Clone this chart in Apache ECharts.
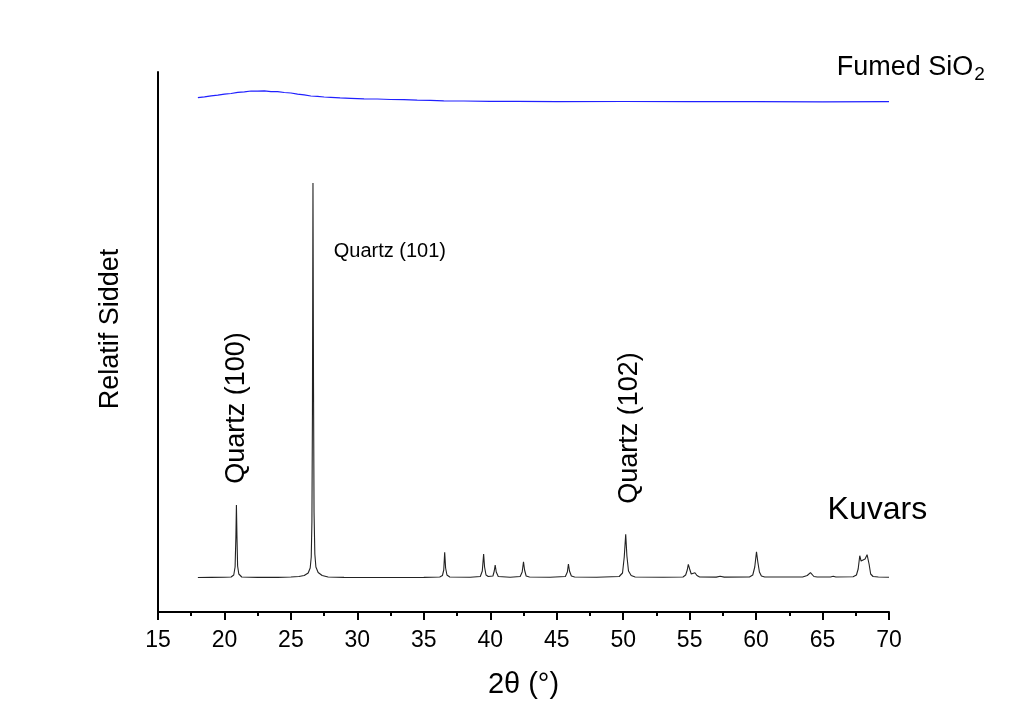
<!DOCTYPE html>
<html>
<head>
<meta charset="utf-8">
<title>XRD</title>
<script src="https://cdn.jsdelivr.net/npm/echarts@6/dist/echarts.min.js"></script>
<style>
  html, body { margin: 0; padding: 0; background: #ffffff; }
  #chart { width: 1019px; height: 711px; }
</style>
</head>
<body>
<div id="chart"></div>
<script>
// 2θ axis ticks
const xTicks = [15, 20, 25, 30, 35, 40, 45, 50, 55, 60, 65, 70];

// Kuvars (quartz) pattern: [2θ, intensity a.u.], offset to sit below the fumed silica trace
const kuvars = [
  [18.0, 34.5], [19.0, 34.6], [20.0, 34.7], [20.5, 35], [20.7, 37], [20.8, 45], [20.86, 75],
  [20.9, 107], [20.94, 76], [20.99, 46], [21.08, 38], [21.3, 35], [22.5, 34.6], [24.0, 34.6],
  [25.0, 35], [25.6, 35.5], [26.0, 36.5], [26.3, 39], [26.45, 44], [26.53, 55], [26.58, 90],
  [26.62, 200], [26.66, 429], [26.70, 230], [26.74, 100], [26.80, 58], [26.88, 45], [27.05, 39.5],
  [27.35, 36.5], [27.8, 35], [29.0, 34.6], [31.0, 34.5], [33.0, 34.5], [35.0, 34.6], [36.2, 35],
  [36.4, 36.5], [36.5, 42], [36.57, 59.7], [36.64, 44], [36.74, 37], [36.95, 35], [38.5, 34.8],
  [39.25, 35.5], [39.4, 41], [39.5, 58], [39.57, 45], [39.68, 37], [39.85, 35.5], [40.2, 36],
  [40.3, 41], [40.37, 47], [40.45, 40], [40.6, 35.5], [41.5, 34.7], [42.25, 35.5], [42.4, 40],
  [42.5, 50.3], [42.58, 42], [42.7, 36], [42.95, 35], [44.5, 34.8], [45.65, 35.5], [45.8, 40],
  [45.88, 48], [45.96, 41], [46.1, 36], [46.35, 35], [48.0, 34.8], [49.7, 35.5], [49.95, 39],
  [50.08, 55], [50.19, 77.7], [50.28, 56], [50.4, 41], [50.6, 36.5], [50.9, 35], [53.0, 34.8],
  [54.5, 35], [54.7, 37], [54.82, 42], [54.9, 47.7], [55.0, 43], [55.12, 38], [55.25, 37.5],
  [55.4, 39.3], [55.55, 36.5], [55.75, 35], [57.0, 34.9], [57.3, 35.8], [57.6, 34.9], [59.5, 35],
  [59.75, 37], [59.9, 45], [60.03, 60.3], [60.13, 50], [60.25, 40], [60.4, 36], [60.65, 35],
  [63.5, 35], [63.85, 36.5], [64.0, 38.5], [64.09, 39.3], [64.2, 37.5], [64.35, 35.5], [64.6, 35],
  [65.6, 35], [65.8, 35.8], [66.0, 35], [67.3, 35.2], [67.55, 37], [67.68, 43], [67.8, 56.3],
  [67.9, 51], [68.05, 49.3], [68.2, 53], [68.35, 57.3], [68.5, 48], [68.62, 38], [68.8, 35.5],
  [69.2, 35], [70.0, 34.8]
];

// Fumed SiO2 pattern: broad amorphous hump around 22°
const fumed = [
  [18.0, 514.3], [18.5, 515.1], [19.0, 516.2], [19.5, 516.8], [20.0, 517.9], [20.5, 518.5],
  [21.0, 519.7], [21.5, 520.2], [22.0, 521.0], [22.5, 520.8], [23.0, 521.1], [23.5, 520.4],
  [24.0, 520.3], [24.5, 519.5], [25.0, 519.0], [25.5, 517.8], [26.0, 517.1], [26.5, 516.0],
  [27.0, 515.7], [27.5, 515.0], [28.0, 514.7], [28.7, 514.1], [29.5, 513.7], [30.5, 513.1],
  [31.5, 513.0], [32.5, 512.5], [33.5, 512.3], [34.5, 511.8], [35.5, 511.7], [36.5, 511.2],
  [38.0, 511.0], [40.0, 510.7], [42.0, 510.7], [45.0, 510.4], [50.0, 510.5], [55.0, 510.3],
  [60.0, 510.4], [65.0, 510.2], [70.0, 510.3]
];

// Peak annotations: [2θ, intensity, text, rotation, font size]
const peakLabels = [
  [20.9, 204, 'Quartz (100)', 90, 27],
  [28.22, 361, 'Quartz (101)', 0, 20],
  [50.45, 184, 'Quartz (102)', 90, 27]
];

const FONT = '"Liberation Sans", Arial, sans-serif';

const chart = echarts.init(document.getElementById('chart'), null, { renderer: 'canvas' });

chart.setOption({
  backgroundColor: '#ffffff',
  animation: false,
  grid: { left: 158, right: 130, top: 72, bottom: 99, containLabel: false },
  xAxis: {
    type: 'value',
    min: xTicks[0],
    max: xTicks[xTicks.length - 1],
    interval: 5,
    name: '2θ (°)',
    nameLocation: 'middle',
    nameGap: 58,
    nameTextStyle: { fontFamily: FONT, fontSize: 29, color: '#000' },
    axisLine: { show: true, onZero: false, lineStyle: { color: '#000', width: 2 } },
    axisTick: { show: true, inside: false, length: 8, lineStyle: { color: '#000', width: 2 } },
    minorTick: { show: true, splitNumber: 2, length: 4, lineStyle: { color: '#000', width: 2 } },
    axisLabel: { fontFamily: FONT, fontSize: 23, color: '#000', margin: 17 },
    splitLine: { show: false }
  },
  yAxis: {
    type: 'value',
    min: 0,
    max: 540,
    name: 'Relatif Siddet',
    nameLocation: 'middle',
    nameRotate: 90,
    nameGap: 34,
    nameTextStyle: { fontFamily: FONT, fontSize: 27, color: '#000', padding: [0, 0, 0, 26] },
    axisLine: { show: true, onZero: false, lineStyle: { color: '#000', width: 2 } },
    axisTick: { show: false },
    axisLabel: { show: false },
    splitLine: { show: false }
  },
  series: [
    {
      name: 'Kuvars',
      type: 'line',
      data: kuvars,
      showSymbol: false,
      smooth: false,
      clip: false,
      lineStyle: { color: '#222222', width: 1.1 },
      markPoint: {
        symbol: 'circle',
        symbolSize: 0,
        silent: true,
        data: peakLabels.map(p => ({
          coord: [p[0], p[1]],
          label: {
            show: true,
            formatter: p[2],
            rotate: p[3],
            fontFamily: FONT,
            fontSize: p[4],
            color: '#000',
            position: p[3] ? 'inside' : 'right',
            distance: 0,
            align: p[3] ? 'center' : 'left',
            verticalAlign: 'middle'
          }
        })).concat([{
          coord: [65.38, 102],
          label: {
            show: true, formatter: 'Kuvars', position: 'right', distance: 0,
            fontFamily: FONT, fontSize: 32, color: '#000', align: 'left', verticalAlign: 'middle'
          }
        }])
      }
    },
    {
      name: 'Fumed SiO2',
      type: 'line',
      data: fumed,
      showSymbol: false,
      smooth: false,
      clip: false,
      lineStyle: { color: '#2020ff', width: 1.2 },
      markPoint: {
        symbol: 'circle',
        symbolSize: 0,
        silent: true,
        data: [{
          coord: [66.06, 540],
          label: {
            show: true,
            position: 'right',
            distance: 0,
            offset: [0, -4],
            formatter: '{a|Fumed SiO}{b|2}',
            color: '#000',
            rich: {
              a: { fontFamily: FONT, fontSize: 27, color: '#000' },
              b: { fontFamily: FONT, fontSize: 19, color: '#000', padding: [14, 0, 0, 1] }
            }
          }
        }]
      }
    }
  ]
});
</script>
</body>
</html>
